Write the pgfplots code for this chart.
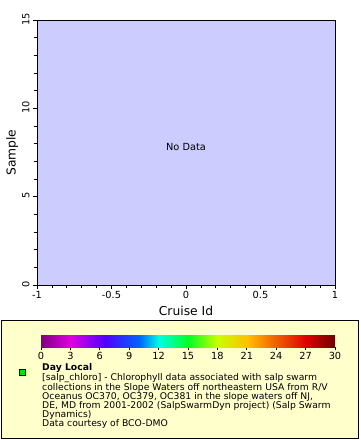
\documentclass[border=0pt]{standalone}
\usepackage{pgfplots}
\pgfplotsset{compat=1.18}
\usepackage{fontspec}
\setmainfont{DejaVu Sans}
\definecolor{plotbg}{RGB}{204,204,255}
\definecolor{legbg}{RGB}{255,255,204}
\definecolor{mkgreen}{RGB}{0,230,0}
\begin{document}
\begin{tikzpicture}
\useasboundingbox (0pt,0pt) rectangle (360pt,-440pt);
\begin{axis}[
  at={(37pt,-285pt)}, anchor=south west,
  scale only axis, width=298pt, height=265pt,
  xmin=-1, xmax=1, ymin=0, ymax=15,
  axis background/.style={fill=plotbg},
  axis line style={line width=0.8pt},
  xtick={-1,-0.5,0,0.5,1},
  xticklabels={-1,-0.5,0,0.5,1},
  ytick={0,5,10,15},
  minor x tick num=4, minor y tick num=4,
  tick align=outside,
  xtick pos=bottom, ytick pos=left,
  major tick length=4pt, minor tick length=2.5pt,
  tick style={black, line width=0.6pt},
  ticklabel style={font=\fontsize{9.8}{10}\selectfont},
  /pgf/number format/assume math mode=true,
  yticklabel style={rotate=90, anchor=south, xshift=1pt},
  xticklabel style={yshift=1pt},
  xlabel={Cruise Id}, ylabel={Sample},
  label style={font=\fontsize{12.3}{12}\selectfont},
  xlabel style={yshift=0pt},
  ylabel style={yshift=-3pt},
]
\addplot[draw=none] coordinates {(-1,0) (1,15)};
\node[font=\fontsize{9.8}{10}\selectfont] at (axis cs:0,7.8) {No Data};
\end{axis}
\draw[black, line width=0.8pt, fill=legbg] (1pt,-320.5pt) rectangle (358.5pt,-438.5pt);
\begin{axis}[
  at={(41pt,-347pt)}, anchor=south west,
  scale only axis, width=294pt, height=12pt,
  xmin=0, xmax=30, ymin=0, ymax=1,
  hide y axis,
  axis x line*=bottom,
  x axis line style={draw=none},
  xtick={0,3,...,30},
  tick align=outside, major tick length=3pt,
  tick style={black, line width=0.6pt},
  ticklabel style={font=\fontsize{9.8}{10}\selectfont},
  /pgf/number format/assume math mode=true,
  xticklabel style={yshift=1.5pt},
  colormap={salp}{rgb255(0)=(128,0,128) rgb255(6)=(224,0,224) rgb255(13)=(80,0,255) rgb255(20)=(0,100,255) rgb255(24)=(0,255,224) rgb255(30)=(0,255,40) rgb255(36)=(200,255,0) rgb255(42)=(255,192,0) rgb255(54)=(224,0,0) rgb255(60)=(112,0,0)},
  point meta min=0, point meta max=30,
]
\addplot[surf, shader=interp, point meta=x, mesh/rows=2] coordinates {
(0,0) (3,0) (6,0) (9,0) (12,0) (15,0) (18,0) (21,0) (24,0) (27,0) (30,0)

(0,1) (3,1) (6,1) (9,1) (12,1) (15,1) (18,1) (21,1) (24,1) (27,1) (30,1)
};
\end{axis}
\draw[black, line width=0.8pt, fill=mkgreen] (19pt,-369.5pt) rectangle (25pt,-375.5pt);
\node[anchor=north west, inner sep=0pt, align=left, font=\fontsize{9.25}{9}\selectfont] at (42pt,-363pt) {%
\textbf{Day Local}\\
{[}salp\_chloro{]} - Chlorophyll data associated with salp swarm\\
collections in the Slope Waters off northeastern USA from R/V\\
Oceanus OC370, OC379, OC381 in the slope waters off NJ,\\
DE, MD from 2001-2002 (SalpSwarmDyn project) (Salp Swarm\\
Dynamics)\\
Data courtesy of BCO-DMO};
\end{tikzpicture}
\end{document}
